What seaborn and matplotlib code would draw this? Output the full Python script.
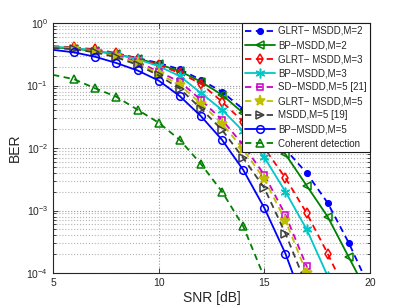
import pandas as pd
import numpy as np
import matplotlib
matplotlib.use("Agg")
import matplotlib.pyplot as plt
import seaborn as sns

# SNR axis (dB) and BER curves
snr = list(range(5, 21))

ber_glrt_m2 = [0.417, 0.398, 0.363, 0.324, 0.275, 0.229, 0.182, 0.123, 0.0794, 0.0417,
               0.0209, 0.00955, 0.00398, 0.00132, 0.000302, 5.6e-5]
ber_bp_m2 = [0.407, 0.389, 0.355, 0.316, 0.269, 0.219, 0.170, 0.115, 0.0708, 0.0363,
             0.0174, 0.00794, 0.00251, 0.000794, 0.000178, 4.0e-5]
ber_glrt_m3 = [0.427, 0.407, 0.380, 0.331, 0.269, 0.214, 0.158, 0.107, 0.055, 0.0263,
               0.0100, 0.00331, 0.000912, 0.000204, 4.0e-5]
ber_bp_m3 = [0.417, 0.398, 0.363, 0.316, 0.263, 0.204, 0.141, 0.0759, 0.0407, 0.0186,
             0.00708, 0.0020, 0.000501, 8.9e-5]
ber_sd_m5 = [0.407, 0.389, 0.355, 0.302, 0.240, 0.166, 0.115, 0.0589, 0.0282, 0.0112,
             0.00372, 0.000851, 0.000129, 1.6e-5]
ber_glrt_m5 = [0.407, 0.389, 0.347, 0.295, 0.229, 0.155, 0.102, 0.0513, 0.0245, 0.00955,
               0.00316, 0.000692, 0.0001, 1.26e-5]
ber_msdd_m5 = [0.398, 0.380, 0.339, 0.282, 0.214, 0.145, 0.0891, 0.0427, 0.0195, 0.00692,
               0.00229, 0.000427, 6.3e-5]
ber_bp_m5 = [0.372, 0.339, 0.288, 0.229, 0.174, 0.120, 0.0676, 0.0324, 0.0135, 0.00447,
             0.0011, 0.000204, 2.5e-5]
ber_coherent = [0.148, 0.126, 0.090, 0.066, 0.041, 0.0254, 0.0135, 0.00555, 0.0020,
                0.00056, 8.5e-5]

labels = ['GLRT\u2212 MSDD,M=2', 'BP\u2212MSDD,M=2', 'GLRT\u2212 MSDD,M=3', 'BP\u2212MSDD,M=3',
          'SD\u2212MSDD,M=5 [21]', 'GLRT\u2212 MSDD,M=5', 'MSDD,M=5 [19]', 'BP\u2212MSDD,M=5',
          'Coherent detection']
series = [ber_glrt_m2, ber_bp_m2, ber_glrt_m3, ber_bp_m3, ber_sd_m5, ber_glrt_m5,
          ber_msdd_m5, ber_bp_m5, ber_coherent]

# style per curve: colour, marker, dashed?, filled marker?, size
styles = [
    ((0, 0, 1), 'o', True, True, 4),
    ((0, 0.5, 0), '<', False, False, 6),
    ((1, 0, 0), 'd', True, False, 5.5),
    ((0, 0.78, 0.78), (6, 2, 0), False, True, 7),
    ((0.8, 0, 0.8), 's', True, False, 5),
    ((0.75, 0.75, 0), '*', True, True, 8),
    ((0.25, 0.25, 0.25), '>', True, False, 6),
    ((0, 0, 1), 'o', False, False, 5.5),
    ((0, 0.5, 0), '^', True, False, 6),
]

sns.set_style('ticks')
plt.rcParams['font.family'] = ['Liberation Sans', 'DejaVu Sans']
plt.rcParams['mathtext.fontset'] = 'custom'
plt.rcParams['mathtext.rm'] = 'Liberation Sans'
plt.rcParams['axes.unicode_minus'] = True

fig = plt.figure(figsize=(4.09, 3.08), dpi=100)
ax = fig.add_axes([0.1296, 0.1136, 0.775, 0.8117])

for lab, ys, (col, mk, dashed, filled, ms) in zip(labels, series, styles):
    df = pd.DataFrame({'SNR': snr[:len(ys)], 'BER': ys})
    sns.lineplot(data=df, x='SNR', y='BER', ax=ax, color=col, label=lab,
                 marker=mk, markersize=ms, markevery=slice(1, None),
                 markerfacecolor=col if filled else 'none', markeredgecolor=col,
                 markeredgewidth=1.1, linewidth=1.3,
                 linestyle=(0, (3.5, 2.5)) if dashed else '-')

ax.set_yscale('log')
ax.set_xlim(5, 20)
ax.set_ylim(1e-4, 1)
ax.set_xticks([5, 10, 15, 20])
ax.set_yticks([1e-4, 1e-3, 1e-2, 1e-1, 1])
ax.grid(True, which='major', linestyle=':', color='0.6', linewidth=0.8)
ax.grid(True, which='minor', axis='y', linestyle=':', color='0.7', linewidth=0.8)
ax.tick_params(which='both', direction='in', top=True, right=True, labelsize=7.5,
               width=0.6)
ax.tick_params(which='major', length=3.5)
ax.tick_params(which='minor', length=2)
for sp in ax.spines.values():
    sp.set_linewidth(0.8)
    sp.set_color('0.15')

ax.set_xlabel('SNR [dB]', fontsize=10, labelpad=2)
ax.set_ylabel('BER', fontsize=10, labelpad=3)

leg = ax.legend(loc='upper right', fontsize=7, frameon=True, fancybox=False,
                borderaxespad=0, handlelength=3.1, handletextpad=0.35,
                labelspacing=0.42, borderpad=0.3, edgecolor='0.1')
leg.get_frame().set_linewidth(0.8)
leg.get_frame().set_alpha(1)

fig.savefig('out.png', dpi=100)
